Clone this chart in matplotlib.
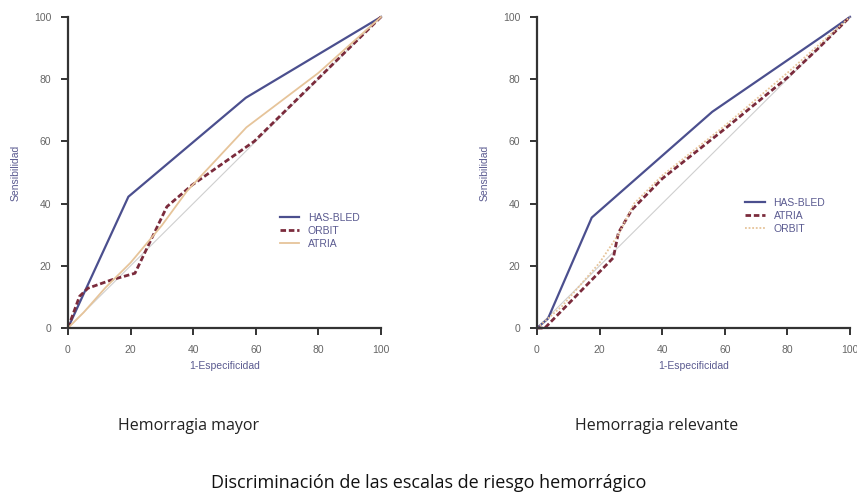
import matplotlib.pyplot as plt

# Hemorragia mayor
x_hb_1 = [0, 19.3, 56.8, 100]
y_hb_1 = [0, 42.2, 74.0, 100]
x_orbit_1 = [0, 3.7, 6.4, 14, 21.4, 31.6, 39.7, 59.5, 100]
y_orbit_1 = [0, 10.2, 12.8, 15.5, 17.6, 39, 46, 60, 100]
x_atria_1 = [0, 5, 12, 20, 30, 38, 57, 80, 100]
y_atria_1 = [0, 5, 13, 21, 33, 44, 64.5, 82, 100]

# Hemorragia relevante
x_hb_2 = [0, 3.5, 17.5, 56, 91.5, 100]
y_hb_2 = [0, 3, 35.5, 69.5, 94, 100]
x_atria_2 = [0, 2.5, 24.4, 26, 30.3, 40, 60, 80, 90, 100]
y_atria_2 = [0, 0, 22.6, 30.6, 38, 48, 64, 80.5, 90, 100]
x_orbit_2 = [0, 8, 20, 26, 31, 40, 60, 80, 100]
y_orbit_2 = [0, 7, 21, 30, 40, 49, 65, 82, 100]

ticks = [0, 20, 40, 60, 80, 100]

c_hb = '#4b4f8e'
c_dash = '#7b2b3c'
c_tan = '#e6c49a'
c_diag = '#cfcfcf'
c_lab = '#5a5a90'

plt.rcParams['font.family'] = ['Liberation Sans', 'DejaVu Sans']

fig = plt.figure(figsize=(8.57, 4.97), dpi=100)
ax1 = fig.add_axes([0.0793, 0.340, 0.3653, 0.626])
ax2 = fig.add_axes([0.6266, 0.340, 0.3652, 0.626])


def style(ax):
    ax.set_xlim(0, 100)
    ax.set_ylim(0, 100)
    ax.set_xticks(ticks)
    ax.set_yticks(ticks)
    for s in ['top', 'right']:
        ax.spines[s].set_visible(False)
    for s in ['left', 'bottom']:
        ax.spines[s].set_linewidth(1.6)
        ax.spines[s].set_color('#333333')
    ax.tick_params(axis='both', direction='out', length=5, width=1.4,
                   color='#333333', labelsize=7.5, labelcolor='#666666', pad=7)
    ax.set_xlabel('1-Especificidad', fontsize=7.5, color=c_lab)
    ax.set_ylabel('Sensibilidad', fontsize=7.5, color=c_lab)
    ax.xaxis.set_label_coords(0.5, -0.105)
    ax.yaxis.set_label_coords(-0.15, 0.5)
    ax.plot([0, 100], [0, 100], color=c_diag, lw=0.8, zorder=1)


style(ax1)
ax1.plot(x_hb_1, y_hb_1, color=c_hb, lw=1.6, label='HAS-BLED', clip_on=False)
ax1.plot(x_orbit_1, y_orbit_1, color=c_dash, lw=2.0, ls=(0, (2, 1)), label='ORBIT', clip_on=False)
ax1.plot(x_atria_1, y_atria_1, color=c_tan, lw=1.3, label='ATRIA', clip_on=False)
ax1.legend(loc='center left', bbox_to_anchor=(0.646, 0.312), frameon=False, fontsize=7.5,
           handlelength=1.9, handletextpad=0.8, labelspacing=0.3,
           labelcolor='#5a5a90')

style(ax2)
ax2.plot(x_hb_2, y_hb_2, color=c_hb, lw=1.6, label='HAS-BLED', clip_on=False)
ax2.plot(x_atria_2, y_atria_2, color=c_dash, lw=2.0, ls=(0, (2, 1)), label='ATRIA', clip_on=False)
ax2.plot(x_orbit_2, y_orbit_2, color=c_tan, lw=1.3, ls=(0, (1, 1)), label='ORBIT', clip_on=False)
ax2.legend(loc='center left', bbox_to_anchor=(0.636, 0.36), frameon=False, fontsize=7.5,
           handlelength=1.9, handletextpad=0.8, labelspacing=0.3,
           labelcolor='#5a5a90')

fig.text(0.220, 0.143, 'Hemorragia mayor', ha='center', va='center',
         fontsize=11.5, family=['Open Sans', 'DejaVu Sans'], color='#222222')
fig.text(0.766, 0.143, 'Hemorragia relevante', ha='center', va='center',
         fontsize=11.5, family=['Open Sans', 'DejaVu Sans'], color='#222222')
fig.text(0.5, 0.028, 'Discriminación de las escalas de riesgo hemorrágico', ha='center',
         va='center', fontsize=13, family=['Open Sans', 'DejaVu Sans'], color='#111111')

fig.savefig('out.png', dpi=100)
